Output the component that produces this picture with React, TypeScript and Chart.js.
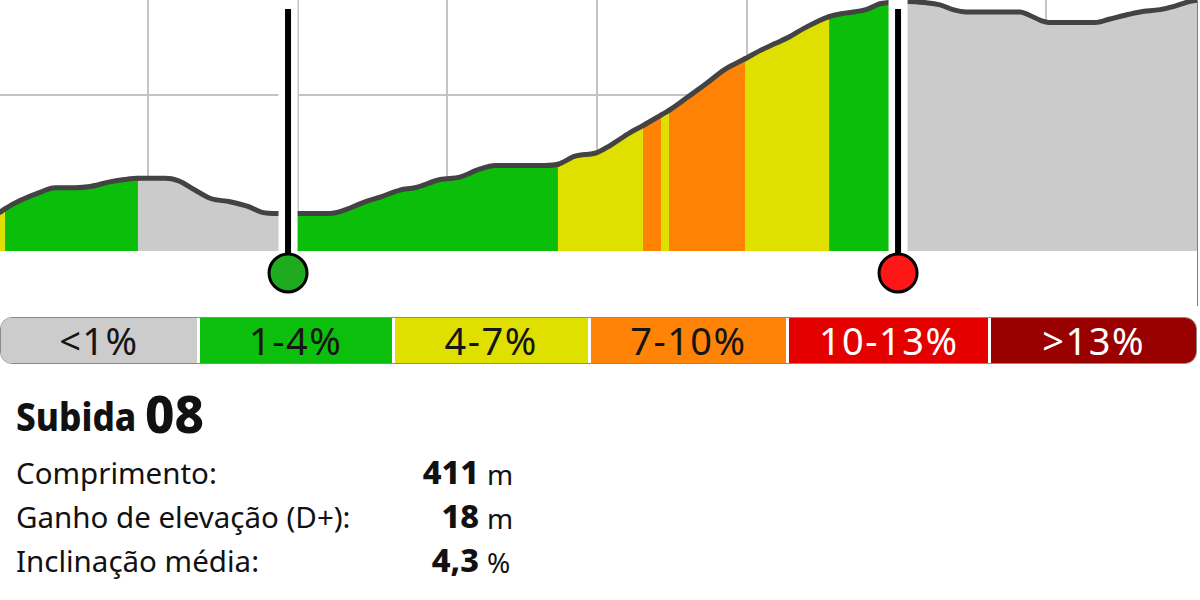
import React, { useEffect, useRef } from "react";
import { Chart, registerables } from "chart.js";

Chart.register(...registerables);

// Distance along the route (m) and elevation (m)
const distances = [
  1, 4.3, 14.4, 27.7, 37.8, 51.1, 61.2, 74.5, 84.5, 93.2,
  111.3, 120.0, 131.3, 141.4, 154.7, 166.7, 176.1, 186.8, 199.5, 221.6,
  231.6, 244.9, 255.0, 268.3, 278.4, 295.1, 308.4, 321.8, 331.8, 365.2,
  373.9, 385.3, 400.0, 408.7, 422.1, 430.7, 442.8, 448.1, 460.2, 472.2,
  485.5, 498.9, 508.9, 519.0, 529.0, 538.3, 555.1, 565.7, 579.8, 589.1,
  595.2, 607.8, 619.2, 629.2, 637.9, 646.6, 682.7, 689.4, 696.1, 702.1,
  732.8, 742.9, 752.2, 762.9, 776.3, 786.3, 796.3, 801.0,
];
const elevations = [
  103.3, 103.6, 104.3, 105.0, 105.4, 105.4, 105.5, 105.9, 106.1, 106.2,
  106.2, 106.0, 105.2, 104.5, 104.2, 103.8, 103.3, 103.2, 103.2, 103.2,
  103.5, 104.2, 104.6, 105.2, 105.4, 106.1, 106.3, 107.0, 107.3, 107.3,
  107.4, 108.1, 108.4, 109.0, 110.1, 110.7, 111.6, 112.0, 113.1, 114.2,
  115.5, 116.4, 117.1, 117.7, 118.3, 119.0, 120.0, 120.3, 120.6, 121.1,
  121.2, 121.3, 121.2, 121.0, 120.6, 120.4, 120.4, 120.1, 119.7, 119.5,
  119.5, 119.8, 120.1, 120.4, 120.6, 120.9, 121.3, 121.4,
];

// Gradient class bands: start distance and class index
const bandStarts = [1, 4.3, 93.2, 199.5, 373.9, 430.7, 442.8, 448.1, 498.9, 555.1, 595.2];
const bandClasses = [2, 1, 0, 1, 2, 3, 2, 3, 2, 1, 0];

const gradeLabels = ["<1%", "1-4%", "4-7%", "7-10%", "10-13%", ">13%"];
const gradeFillColors = ["#cbcbcb", "#0abe0a", "#dfe000", "#fe8305", "#e60000", "#990000"];
const gradeLegendColors = ["#cccccc", "#0cbf0c", "#e0e000", "#fe8306", "#e50000", "#990000"];
const gradeTextColors = ["#151515", "#151515", "#151515", "#151515", "#ffffff", "#ffffff"];

const markerDistances = [193.5, 601.2];
const markerColors = ["#1fab1f", "#ff1616"];

const xGridValues = [100, 200, 300, 400, 500, 600, 700];
const yGridValues = [113.3];

const climbTitle = "Subida";
const climbNumber = "08";
const statLabels = ["Comprimento:", "Ganho de elevação (D+):", "Inclinação média:"];
const statValues = ["411", "18", "4,3"];
const statUnits = ["m", "m", "%"];

const legendWeights = [196, 192, 193, 196, 199, 205];

function classAt(d: number): number {
  let c = bandClasses[0];
  for (let i = 0; i < bandStarts.length; i++) {
    if (d >= bandStarts[i]) c = bandClasses[i];
  }
  return c;
}

const markerPlugin = {
  id: "climbMarkers",
  afterDatasetsDraw(chart: any) {
    const { ctx, chartArea, scales } = chart;
    markerDistances.forEach((d, i) => {
      const px = scales.x.getPixelForValue(d);
      ctx.save();
      ctx.fillStyle = "#ffffff";
      ctx.fillRect(px - 9.5, 0, 19, chartArea.bottom);
      ctx.fillStyle = "#000000";
      ctx.fillRect(px - 3, 9, 6, chartArea.bottom + 8 - 9);
      ctx.beginPath();
      ctx.arc(px, chartArea.bottom + 22, 19, 0, Math.PI * 2);
      ctx.fillStyle = markerColors[i];
      ctx.fill();
      ctx.lineWidth = 3;
      ctx.strokeStyle = "#000000";
      ctx.stroke();
      ctx.restore();
    });
  },
};

export default function App() {
  const canvasRef = useRef<HTMLCanvasElement>(null);

  useEffect(() => {
    const canvas = canvasRef.current;
    if (!canvas) return;
    const points = distances.map((d, i) => ({ x: d, y: elevations[i] }));
    const chart = new Chart(canvas, {
      type: "line",
      data: {
        datasets: [
          {
            data: points,
            borderColor: "#434343",
            borderWidth: 5,
            borderJoinStyle: "round",
            borderCapStyle: "round",
            pointRadius: 0,
            cubicInterpolationMode: "monotone",
            fill: "start",
            backgroundColor: gradeFillColors[0],
            segment: {
              backgroundColor: (ctx: any) => {
                const mid = (distances[ctx.p0DataIndex] + distances[ctx.p1DataIndex]) / 2;
                return gradeFillColors[classAt(mid)];
              },
            },
          } as any,
        ],
      },
      options: {
        responsive: false,
        animation: false,
        events: [],
        layout: { padding: { left: 0, right: 3, top: 0, bottom: 49 } },
        plugins: { legend: { display: false }, tooltip: { enabled: false } },
        scales: {
          x: {
            type: "linear",
            min: 1,
            max: 801,
            afterBuildTicks: (s: any) => {
              s.ticks = xGridValues.map((v) => ({ value: v }));
            },
            ticks: { display: false },
            grid: { color: "#c4c4c4", lineWidth: 2, drawTicks: false },
            border: { display: false },
          },
          y: {
            type: "linear",
            min: 100,
            max: 121.42,
            afterBuildTicks: (s: any) => {
              s.ticks = yGridValues.map((v) => ({ value: v }));
            },
            ticks: { display: false },
            grid: { color: "#c4c4c4", lineWidth: 2, drawTicks: false },
            border: { display: false },
          },
        },
      } as any,
      plugins: [markerPlugin],
    });
    return () => chart.destroy();
  }, []);

  const font = '"Noto Sans", "Open Sans", sans-serif';
  const rowBaselines = [484, 528, 572];
  const bodySize = 29.5;

  return (
    <div
      style={{
        position: "fixed",
        left: 0,
        top: 0,
        width: 1200,
        height: 600,
        background: "#ffffff",
        overflow: "hidden",
        fontFamily: font,
        color: "#111111",
      }}
    >
      <canvas
        ref={canvasRef}
        width={1200}
        height={300}
        style={{ position: "absolute", left: 0, top: 0, width: 1200, height: 300 }}
      />
      <div
        style={{
          position: "absolute",
          left: 1196.5,
          top: 0,
          width: 1.5,
          height: 306,
          background: "#808080",
        }}
      />
      <div
        style={{
          position: "absolute",
          left: 0,
          top: 317,
          width: 1197,
          height: 47,
          boxSizing: "border-box",
          border: "1.5px solid #8a8a8a",
          borderRadius: 12,
          overflow: "hidden",
          display: "flex",
          gap: 3,
          background: "#ffffff",
        }}
      >
        {gradeLabels.map((lab, i) => (
          <div
            key={lab}
            style={{
              flex: `${legendWeights[i]} 1 0px`,
              background: gradeLegendColors[i],
              color: gradeTextColors[i],
              fontSize: 38,
              lineHeight: "44px",
              textAlign: "center",
              letterSpacing: 1.5,
              whiteSpace: "nowrap",
            }}
          >
            {lab}
          </div>
        ))}
      </div>
      <div
        style={{
          position: "absolute",
          left: 16,
          top: 432 - 0.888 * 40,
          fontSize: 40,
          lineHeight: "40px",
          fontWeight: 800,
          transform: "scaleX(0.88)",
          transformOrigin: "left top",
          whiteSpace: "nowrap",
        }}
      >
        {climbTitle}
      </div>
      <div
        style={{
          position: "absolute",
          left: 145,
          top: 433 - 0.888 * 51,
          fontSize: 51,
          lineHeight: "51px",
          fontWeight: 800,
          whiteSpace: "nowrap",
        }}
      >
        {climbNumber}
      </div>
      {statLabels.map((lab, i) => (
        <React.Fragment key={lab}>
          <div
            style={{
              position: "absolute",
              left: 16,
              top: rowBaselines[i] - 0.888 * bodySize,
              fontSize: bodySize,
              lineHeight: `${bodySize}px`,
              whiteSpace: "nowrap",
            }}
          >
            {lab}
          </div>
          <div
            style={{
              position: "absolute",
              right: 1200 - 479,
              top: rowBaselines[i] + 1 - 0.888 * 32.5,
              fontSize: 32.5,
              lineHeight: "32.5px",
              fontWeight: 800,
              textAlign: "right",
              whiteSpace: "nowrap",
            }}
          >
            {statValues[i]}
          </div>
          <div
            style={{
              position: "absolute",
              left: 487,
              top: rowBaselines[i] + 1 - 0.888 * 28,
              fontSize: 28,
              lineHeight: "28px",
              whiteSpace: "nowrap",
            }}
          >
            {statUnits[i]}
          </div>
        </React.Fragment>
      ))}
    </div>
  );
}
